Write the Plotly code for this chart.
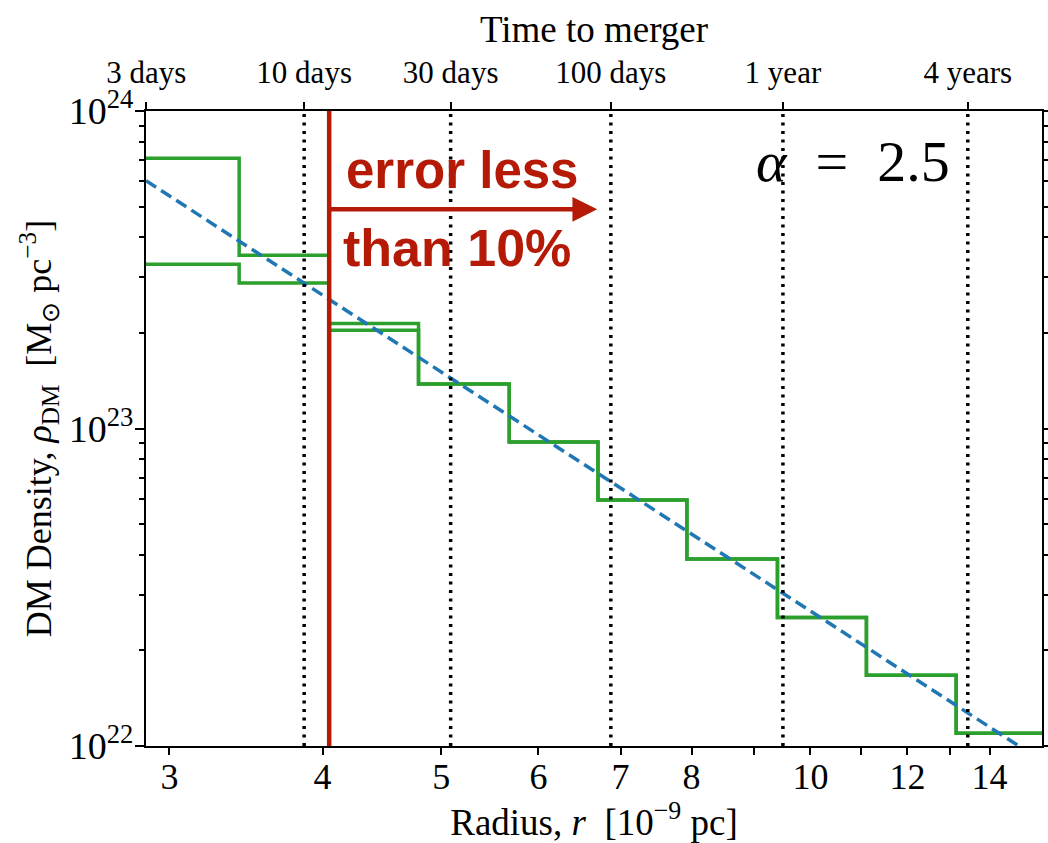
import math
import plotly.graph_objects as go

# ---------------- data ----------------
bin_edges = [2.871, 3.42, 4.05, 4.79, 5.68, 6.71, 7.93, 9.40, 11.11, 13.15, 15.45]
rho_a = [7.10e23, 3.51e23, 2.14e23, 1.38e23, 9.06e22, 5.95e22, 3.88e22, 2.54e22, 1.67e22, 1.096e22]
rho_b = [3.29e23, 2.87e23, 2.04e23, 1.38e23, 9.06e22, 5.95e22, 3.88e22, 2.54e22, 1.67e22, 1.096e22]

powerlaw_r = [2.871, 15.45]
powerlaw_rho = [6.03e23, 8.97e21]

time_r = [2.872, 3.864, 5.088, 6.874, 9.497, 13.44]
time_labels = ["3 days", "10 days", "30 days", "100 days", "1 year", "4 years"]
dotted_r = time_r[1:]

cutoff_r = 4.05
arrow_end_r = 6.70
arrow_rho = 4.90e23

x_range = [2.871, 15.45]
y_range = [1e22, 1e24]
x_ticks = [3, 4, 5, 6, 7, 8, 9, 10, 11, 12, 13, 14]
x_tick_labels = ["3", "4", "5", "6", "7", "8", "", "10", "", "12", "", "14"]
y_ticks = [1e22, 1e23, 1e24]
y_tick_labels = ["10<sup>22</sup>", "10<sup>23</sup>", "10<sup>24</sup>"]
y_minor = [2e22, 3e22, 4e22, 5e22, 6e22, 7e22, 8e22, 9e22,
           2e23, 3e23, 4e23, 5e23, 6e23, 7e23, 8e23, 9e23]

# ---------------- styles ----------------
GREEN = "#2ca02c"
BLUE = "#1f77b4"
RED = "#b51a06"
SERIF = "Liberation Serif"
SANS = "Liberation Sans"

fig = go.Figure()


def step_xy(edges, vals):
    return list(edges), list(vals) + [vals[-1]]


for rho in (rho_a, rho_b):
    xs, ys = step_xy(bin_edges, rho)
    fig.add_trace(go.Scatter(x=xs, y=ys, mode="lines", line_shape="hv",
                             line=dict(color=GREEN, width=3.5), showlegend=False,
                             hoverinfo="skip"))

# dotted time markers (on the top axis)
for r in dotted_r:
    fig.add_trace(go.Scatter(x=[r, r], y=y_range, mode="lines", xaxis="x2",
                             line=dict(color="black", width=3.5, dash="3px,5.5px"),
                             showlegend=False, hoverinfo="skip"))

fig.add_trace(go.Scatter(x=powerlaw_r, y=powerlaw_rho, mode="lines",
                         line=dict(color=BLUE, width=3.5, dash="12px,6px"),
                         showlegend=False, hoverinfo="skip"))

fig.add_trace(go.Scatter(x=[cutoff_r, cutoff_r], y=y_range, mode="lines",
                         line=dict(color=RED, width=4.5),
                         showlegend=False, hoverinfo="skip"))

annotations = [
    dict(x=math.log10(arrow_end_r), y=math.log10(arrow_rho), xref="x", yref="y",
         ax=math.log10(cutoff_r), ay=math.log10(arrow_rho), axref="x", ayref="y",
         text="", showarrow=True, arrowhead=2, arrowsize=1.1, arrowwidth=4.5,
         arrowcolor=RED, standoff=0, startstandoff=0),
    dict(x=0.221, y=0.9067, xref="paper", yref="paper", xanchor="left", yanchor="middle",
         text="error less", showarrow=False,
         font=dict(family=SANS, size=51, color=RED, weight="bold")),
    dict(x=0.218, y=0.7847, xref="paper", yref="paper", xanchor="left", yanchor="middle",
         text="than 10%", showarrow=False,
         font=dict(family=SANS, size=52, color=RED, weight="bold")),
    dict(x=0.789, y=0.921, xref="paper", yref="paper", xanchor="center", yanchor="middle",
         text="<i>α</i>  =  2.5", showarrow=False,
         font=dict(family=SERIF, size=58, color="black")),
]

axis_common = dict(type="log", showgrid=False, zeroline=False, showline=True,
                   linecolor="black", linewidth=2, ticks="outside", tickwidth=2,
                   tickcolor="black", automargin=False)

fig.update_layout(
    width=1048, height=843,
    margin=dict(l=146, r=6, t=111, b=97),
    paper_bgcolor="white", plot_bgcolor="white",
    font=dict(family=SERIF, size=36, color="black"),
    annotations=annotations,
    xaxis=dict(**axis_common, range=[math.log10(x_range[0]), math.log10(x_range[1])],
               tickmode="array", tickvals=x_ticks, ticktext=x_tick_labels, ticklen=7,
               tickfont=dict(family=SERIF, size=36), ticklabelstandoff=-9,
               title=dict(text="Radius, <i>r</i>  [10<sup>−9</sup> pc]",
                          font=dict(family=SERIF, size=37), standoff=4)),
    xaxis2=dict(**axis_common, overlaying="x", side="top", anchor="y",
                range=[math.log10(x_range[0]), math.log10(x_range[1])],
                tickmode="array", tickvals=time_r, ticktext=time_labels, ticklen=7,
                tickfont=dict(family=SERIF, size=31), ticklabelstandoff=7,
                title=dict(text="Time to merger", font=dict(family=SERIF, size=37),
                           standoff=1)),
    yaxis=dict(**axis_common, range=[22, 24], mirror="ticks",
               tickmode="array", tickvals=y_ticks, ticktext=y_tick_labels, ticklen=9,
               tickfont=dict(family=SERIF, size=38), ticklabelstandoff=-6,
               minor=dict(tickmode="array", tickvals=y_minor, ticks="outside",
                          ticklen=5, tickwidth=1.5, tickcolor="black", showgrid=False),
               title=dict(text="DM Density, <i>ρ</i><sub>DM</sub>  [M<sub>⊙</sub> pc<sup>−3</sup>]",
                          font=dict(family=SERIF, size=36), standoff=6)),
)

fig.write_html("out.html")
